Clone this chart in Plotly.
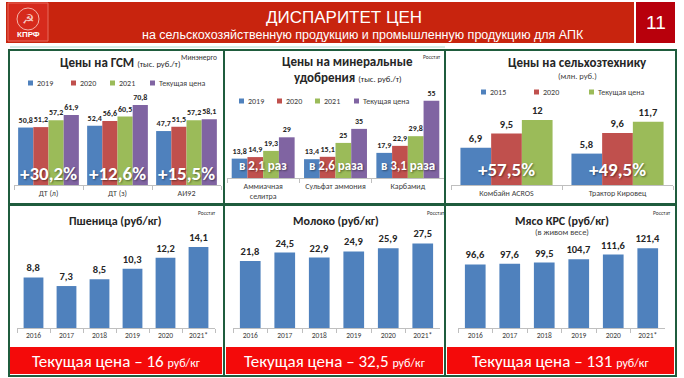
import plotly.graph_objects as go

W, H = 684, 378


def X(px):
    return px / W


def Y(py):
    return 1 - py / H


# ---------------- DATA ----------------
gsm_categories = ["ДТ (л)", "ДТ (з)", "АИ92"]
gsm_series = ["2019", "2020", "2021", "Текущая цена"]
gsm_2019 = [50.8, 52.4, 47.7]
gsm_2020 = [51.2, 56.6, 51.5]
gsm_2021 = [57.2, 60.5, 57.2]
gsm_current = [61.9, 70.8, 58.1]
gsm_growth = ["+30,2%", "+12,6%", "+15,5%"]

fert_categories = ["Аммиачная<br>селитра", "Сульфат аммония", "Карбамид"]
fert_series = ["2019", "2020", "2021", "Текущая цена"]
fert_2019 = [13.8, 13.4, 17.9]
fert_2020 = [14.9, 15.1, 22.9]
fert_2021 = [19.3, 25, 29.8]
fert_current = [29, 35, 55]
fert_growth = ["в 2,1 раз", "в 2,6 раза", "в 3,1 раза"]

mach_categories = ["Комбайн ACROS", "Трактор Кировец"]
mach_series = ["2015", "2020", "Текущая цена"]
mach_2015 = [6.9, 5.8]
mach_2020 = [9.5, 9.6]
mach_current = [12, 11.7]
mach_growth = ["+57,5%", "+49,5%"]

years = ["2016", "2017", "2018", "2019", "2020", "2021*"]
wheat = [8.8, 7.3, 8.5, 10.3, 12.2, 14.1]
milk = [21.8, 24.5, 22.9, 24.9, 25.9, 27.5]
beef = [96.6, 97.6, 99.5, 104.7, 111.6, 121.4]
current_prices = ["16", "32,5", "131"]

# ---------------- STYLE ----------------
BLUE, RED, GREEN, PURPLE = "#4F81BD", "#C0504D", "#9BBB59", "#8064A2"
BORDER = "#1F5C3D"
HEADER_RED = "#C8240E"
BANNER_RED = "#F40A0A"
BODY = "Carlito, Lato, Open Sans, sans-serif"
NARROW = "Liberation Sans, Arial, sans-serif"
TXT = "#262626"


def fmt(v):
    return f"{v:g}".replace(".", ",")


fig = go.Figure()
shapes = []
annotations = []


def ax_names(n):
    s = "" if n == 1 else str(n)
    return f"xaxis{s}", f"yaxis{s}", f"x{s}", f"y{s}"


def add_axes(n, x0, x1, ybot, ytop, categories, yrange, tick_size):
    xa, ya, xr, yr = ax_names(n)
    fig.update_layout(**{
        xa: dict(domain=[X(x0), X(x1)], anchor=yr, type="category",
                 categoryorder="array", categoryarray=categories,
                 showline=True, linecolor="#BFBFBF", linewidth=1,
                 ticks="outside", tickson="boundaries", ticklen=4,
                 tickcolor="#BFBFBF",
                 tickfont=dict(size=tick_size, color="#404040", family=BODY),
                 showgrid=False, zeroline=False, fixedrange=True),
        ya: dict(domain=[Y(ybot), Y(ytop)], anchor=xr, range=yrange,
                 visible=False, fixedrange=True),
    })


def add_group(n, categories, series_vals, names, colors, group_frac, text_size):
    _, _, xr, yr = ax_names(n)
    k = len(series_vals)
    w = group_frac / k
    for i, (vals, name, col) in enumerate(zip(series_vals, names, colors)):
        fig.add_trace(go.Bar(
            x=categories, y=vals, name=name, marker_color=col,
            marker_line_width=0, width=w, offset=-group_frac / 2 + i * w,
            text=[fmt(v) for v in vals], textposition="outside",
            constraintext="none", cliponaxis=False,
            textfont=dict(size=text_size, color=TXT, family=BODY, weight="bold"),
            xaxis=xr, yaxis=yr, showlegend=False, hoverinfo="skip"))


def add_legend(xs, y, names, colors, size=8):
    for x, name, col in zip(xs, names, colors):
        shapes.append(dict(type="rect", xref="paper", yref="paper",
                           x0=X(x), x1=X(x + 5), y0=Y(y + 2.5), y1=Y(y - 2.5),
                           fillcolor=col, line_width=0))
        annotations.append(dict(text=name, xref="paper", yref="paper",
                                x=X(x + 7), y=Y(y), xanchor="left", yanchor="middle",
                                showarrow=False,
                                font=dict(size=size, color="#404040", family=BODY)))


def add_overlay(n, categories, texts, y, size):
    _, _, xr, _ = ax_names(n)
    for c, t in zip(categories, texts):
        annotations.append(dict(text=f"<b>{t}</b>", xref=xr, yref="paper", x=c, y=Y(y),
                                xanchor="center", yanchor="middle", showarrow=False,
                                font=dict(size=size, color="white", family=BODY,
                                          shadow="1px 1px 2px rgba(0,0,0,0.45)")))


def text_at(t, x, y, size, color=TXT, family=BODY, xanchor="center"):
    annotations.append(dict(text=t, xref="paper", yref="paper", x=X(x), y=Y(y),
                            xanchor=xanchor, yanchor="middle", showarrow=False,
                            font=dict(size=size, color=color, family=family)))


def box(x0, y0, x1, y1, fill=None, line=None, lw=0):
    shapes.append(dict(type="rect", xref="paper", yref="paper",
                       x0=X(x0), x1=X(x1), y0=Y(y1), y1=Y(y0),
                       fillcolor=fill if fill else "rgba(0,0,0,0)",
                       line=dict(color=line if line else "rgba(0,0,0,0)", width=lw),
                       layer="below" if fill else "above"))


# ---------------- HEADER ----------------
box(6, 2, 634, 43, fill=HEADER_RED)
box(8, 3, 48, 41, fill="#D62A1C", line="#E86A5E", lw=1)
shapes.append(dict(type="circle", xref="paper", yref="paper",
                   x0=X(17), x1=X(39), y0=Y(30), y1=Y(8),
                   line=dict(color="#F3B3AA", width=1), fillcolor="rgba(0,0,0,0)"))
text_at("☭", 28, 19, 14, color="#F6C9C2", family="DejaVu Sans")
text_at("<b>КПРФ</b>", 28, 35, 8, color="white", family="Liberation Sans, Arial")
box(636, 2, 675, 43, fill="#B8000C")
text_at("11", 655.5, 22.5, 19, color="white", family=NARROW)
text_at("ДИСПАРИТЕТ ЦЕН", 344, 17, 17, color="white", family=NARROW)
text_at("на сельскохозяйственную продукцию и промышленную продукцию для АПК",
        363, 35, 12.5, color="white", family=NARROW)
shapes.append(dict(type="line", xref="paper", yref="paper", x0=X(10), x1=X(445),
                   y0=Y(47), y1=Y(47), line=dict(color="#A9D6CC", width=1)))

# ---------------- PANEL BORDERS ----------------
panel_boxes = [(9, 50, 224, 204), (224, 50, 445, 204), (445, 50, 676, 204),
               (9, 205, 224, 376), (224, 205, 445, 376), (445, 205, 676, 376)]
for (a, b, c, d) in panel_boxes:
    box(a, b, c, d, line=BORDER, lw=2)

# ---------------- PANEL 1: ГСМ ----------------
add_axes(1, 14, 221, 185, 90, gsm_categories, [0, 84], 8)
add_group(1, gsm_categories, [gsm_2019, gsm_2020, gsm_2021, gsm_current],
          gsm_series, [BLUE, RED, GREEN, PURPLE], 0.88, 8)
text_at("<b>Цены на ГСМ</b> <span style='font-size:8.5px'>(тыс. руб./т)</span>",
        120, 63, 13)
text_at("Минэнерго", 199, 57, 7.5, color="#333333")
add_legend([28, 71, 110, 150], 83, gsm_series, [BLUE, RED, GREEN, PURPLE])
add_overlay(1, gsm_categories, gsm_growth, 173, 19)

# ---------------- PANEL 2: удобрения ----------------
add_axes(2, 227, 444, 178, 98, fert_categories, [0, 57], 8)
add_group(2, fert_categories, [fert_2019, fert_2020, fert_2021, fert_current],
          fert_series, [BLUE, RED, GREEN, PURPLE], 0.87, 8)
text_at("<b>Цены на минеральные</b>", 347, 62, 13)
text_at("<b>удобрения</b> <span style='font-size:8.5px'>(тыс. руб./т)</span>", 348, 77, 13)
text_at("Росстат", 432, 57, 5.5, color="#333333")
add_legend([239, 277, 315, 354], 101, fert_series, [BLUE, RED, GREEN, PURPLE])
add_overlay(2, fert_categories, fert_growth, 165, 13)

# ---------------- PANEL 3: сельхозтехника ----------------
add_axes(3, 451, 673, 185, 100, mach_categories, [0, 15.7], 8)
add_group(3, mach_categories, [mach_2015, mach_2020, mach_current],
          mach_series, [BLUE, RED, GREEN], 0.83, 10.5)
text_at("<b>Цены на сельхозтехнику</b>", 577, 63, 13)
text_at("(млн. руб.)", 577, 76, 8.5, color="#404040")
add_legend([481, 534, 589], 92, mach_series, [BLUE, RED, GREEN])
add_overlay(3, mach_categories, mach_growth, 169, 19)

# ---------------- BOTTOM PANELS ----------------
bottom = [
    (4, 17, 215, wheat, [0, 16.7], "Пшеница (руб/кг)", 115, None, 207, 10, 222),
    (5, 233, 440, milk, [0, 31.2], "Молоко (руб/кг)", 336, None, 436, 226, 443),
    (6, 458, 665, beef, [0, 146], "Мясо КРС (руб/кг)", 562, "(в живом весе)", 662, 447, 674),
]
for (n, x0, x1, vals, yr, title, tx, sub, rx, bx0, bx1), price in zip(bottom, current_prices):
    add_axes(n, x0, x1, 328, 232, years, yr, 7.5)
    add_group(n, years, [vals], [title], [BLUE], 0.6, 10.5)
    text_at(f"<b>{title}</b>", tx, 221, 12)
    if sub:
        text_at(sub, tx, 232, 8.5, color="#404040")
    text_at("Росстат", rx, 213, 5.5, color="#333333")
    box(bx0, 347, bx1, 374, fill=BANNER_RED)
    text_at(f"Текущая цена – {price} <span style='font-size:12px'>руб/кг</span>",
            (bx0 + bx1) / 2, 361, 17, color="white")

fig.update_layout(
    width=W, height=H, margin=dict(l=0, r=0, t=0, b=0),
    paper_bgcolor="white", plot_bgcolor="rgba(0,0,0,0)",
    barmode="overlay", showlegend=False,
    shapes=shapes, annotations=annotations,
    font=dict(family=BODY, color=TXT),
)

fig.write_html(
    "out.html",
    config={"displayModeBar": False},
    post_script="document.body.style.margin='0';document.body.style.overflow='hidden';",
)
